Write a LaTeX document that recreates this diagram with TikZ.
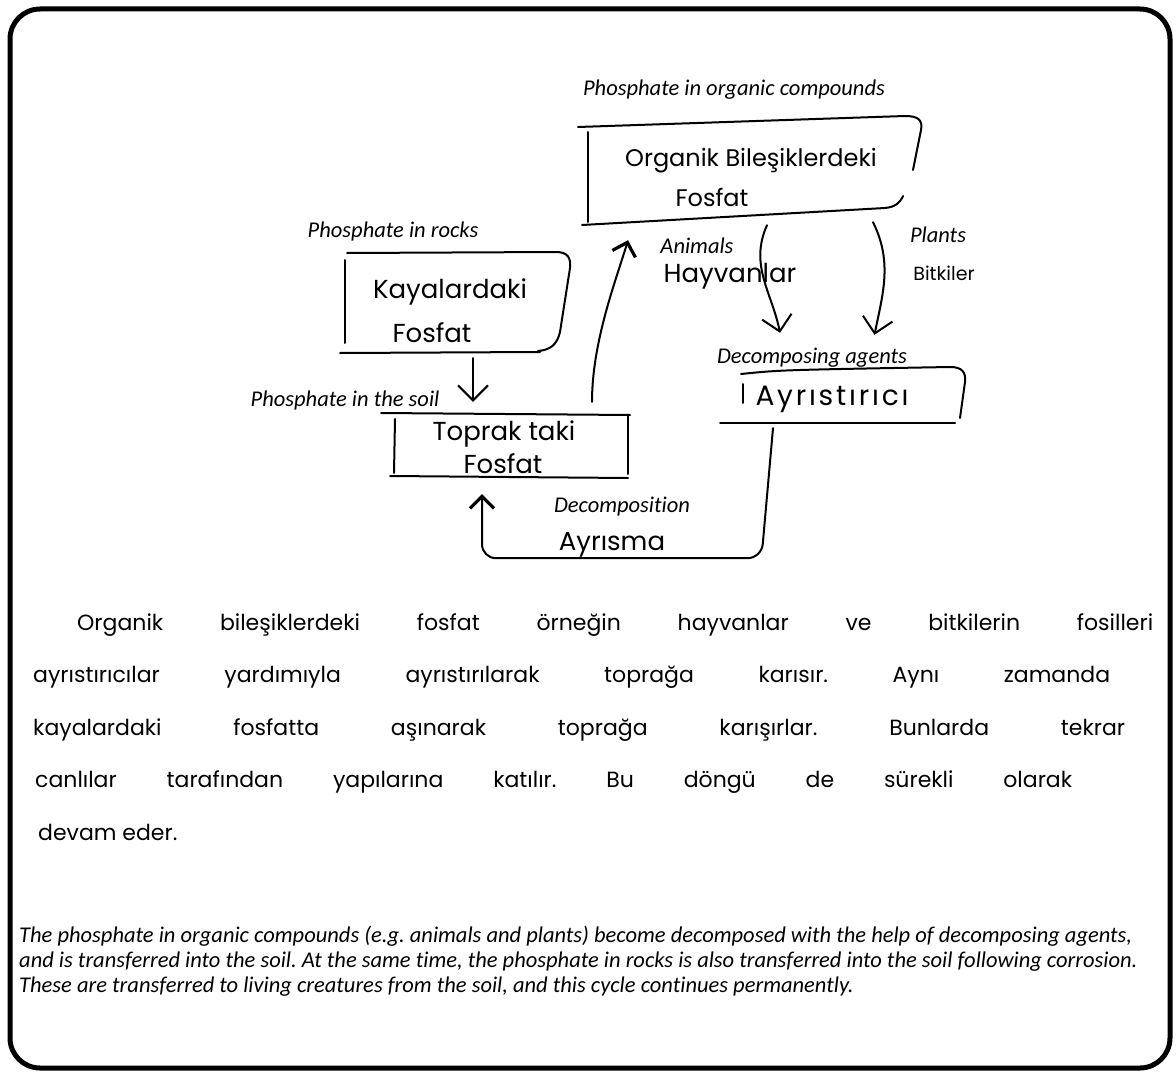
\documentclass[tikz,border=0pt]{standalone}
\usepackage{fontspec}
\setmainfont{Carlito}[Ligatures=NoCommon]
\newfontfamily\handfont{Poppins}
\usetikzlibrary{arrows.meta,calc,positioning}
\frenchspacing

\begin{document}
\begin{tikzpicture}[x=1pt, y=-1pt,
  pen/.style={line width=2pt, line cap=round, line join=round},
  barb/.style={pen, -{Straight Barb[length=15pt, width=30pt]}},
  heavybarb/.style={pen, -{Straight Barb[length=12pt, width=24pt, line width=3.2pt]}},
  box/.style={rectangle, inner sep=0pt},
  caption/.style={font=\itshape\fontsize{22.5}{25}\selectfont, inner sep=0pt},
  hand/.style={font=\handfont\fontsize{26}{30}\selectfont, inner sep=0pt, anchor=base},
  para/.style={font=\handfont\fontsize{22}{26}\selectfont, inner sep=0pt, anchor=base west}]
  \useasboundingbox (0,0) rectangle (1176,1073);
  \draw[line width=5pt, rounded corners=30pt] (10,9) rectangle (1170,1068);

  \node[box, minimum width=329pt, minimum height=100pt] (organic) at (752.5,172) {};
  \node[box, minimum width=224pt, minimum height=100pt] (rocks) at (457,302) {};
  \node[box, minimum width=234pt, minimum height=63pt] (soil) at (511,445.5) {};
  \node[box, minimum width=221pt, minimum height=54pt] (decomposers) at (853.5,396) {};

  \draw[pen] (578,127) -- (905,116) .. controls (918,116) and (923,120) .. (921,130) -- (913,170);
  \draw[pen] (588,132) -- (588,222);
  \draw[pen] (582,225) -- (885,208) .. controls (895,207) and (900,203) .. (903,196);
  \draw[pen] (347,253) -- (556,252) .. controls (568,252) and (571,258) .. (570,268) -- (560,332) .. controls (557,345) and (550,350) .. (538,351);
  \draw[pen] (345,260) -- (345,343);
  \draw[pen] (340,353) -- (540,352);
  \draw[pen] (381,413) -- (630,415);
  \draw[pen] (628,416) -- (628,474);
  \draw[pen] (395,419) -- (394,473);
  \draw[pen] (390,476) -- (628,478);
  \draw[pen] (741,374) .. controls (780,370) .. (950,367) .. controls (962,367) and (966,372) .. (965,382) -- (960,418);
  \draw[pen] (743,384) -- (743,403);
  \draw[pen] (720,423) -- (955,423);

  \node[hand, font=\handfont\fontsize{24}{28}\selectfont] (organic-line1) at (751,166) {Organik Bileşiklerdeki};
  \node[hand, font=\handfont\fontsize{24}{28}\selectfont] (organic-line2) at (712,206) {Fosfat};
  \node[hand] (rocks-line1) at (450,298) {Kayalardaki};
  \node[hand] (rocks-line2) at (432,342) {Fosfat};
  \node[hand] (soil-line1) at (504,440) {Toprak taki};
  \node[hand] (soil-line2) at (503,473) {Fosfat};
  \node[hand] (animals) at (730,282) {Hayvanlar};
  \node[hand, font=\handfont\fontsize{19}{22}\selectfont] (plants) at (944,280) {Bitkiler};
  \node[hand, font=\handfont\fontsize{28}{30}\selectfont\addfontfeatures{LetterSpace=10}] (decomposers-text) at (832,405) {Ayrıstırıcı};
  \node[hand] (decomposition) at (612,550) {Ayrısma};

  \draw[barb] ($(rocks.south)+(16,6)$) -- ($(soil.north)+(-38,-12)$);
  \draw[heavybarb] ($(soil.north)+(81,-12)$) .. controls +(0,-60) and +(-12,40) .. ($(organic.south)+(-124.5,18)$);
  \draw[barb] ($(organic.south)+(14.5,3)$) .. controls +(-18,40) and +(-8,-40) .. ($(decomposers.north)+(-73.5,-36)$);
  \draw[barb] ($(organic.south)+(120.5,0)$) .. controls +(20,40) and +(8,-40) .. ($(decomposers.north)+(21,-34)$);
  \draw[heavybarb, rounded corners=14pt] ($(decomposers.south)+(-80.5,5)$) -- ($(decomposers.south)+(-92,135)$) -| ($(soil.south)+(-29,17)$);

  \node[caption] (organic-label) at (734,90) {Phosphate in organic compounds};
  \node[caption] (rocks-label) at (393,232) {Phosphate in rocks};
  \node[caption] (soil-label) at (345,400) {Phosphate in the soil};
  \node[caption] (animals-label) at (697,246) {Animals};
  \node[caption] (plants-label) at (938,235) {Plants};
  \node[caption] (decomposers-label) at (812,358) {Decomposing agents};
  \node[caption] (decomposition-label) at (622,507) {Decomposition};

  \node[para] (turkish-line1) at (77,630) {\makebox[1076pt][s]{Organik bileşiklerdeki fosfat örneğin hayvanlar ve bitkilerin fosilleri}};
  \node[para] (turkish-line2) at (33,682) {\makebox[1077pt][s]{ayrıstırıcılar yardımıyla ayrıstırılarak toprağa karısır. Aynı zamanda}};
  \node[para] (turkish-line3) at (33,735) {\makebox[1092pt][s]{kayalardaki fosfatta aşınarak toprağa karışırlar. Bunlarda tekrar}};
  \node[para] (turkish-line4) at (35,787) {\makebox[1037pt][s]{canlılar tarafından yapılarına katılır. Bu döngü de sürekli olarak}};
  \node[para] (turkish-line5) at (38,840) {devam eder.};

  \node[caption, anchor=north west, align=left] (summary) at (19,926) {The phosphate in organic compounds (e.g. animals and plants) become decomposed with the help of decomposing agents,\\and is transferred into the soil. At the same time, the phosphate in rocks is also transferred into the soil following corrosion.\\These are transferred to living creatures from the soil, and this cycle continues permanently.};
\end{tikzpicture}
\end{document}
